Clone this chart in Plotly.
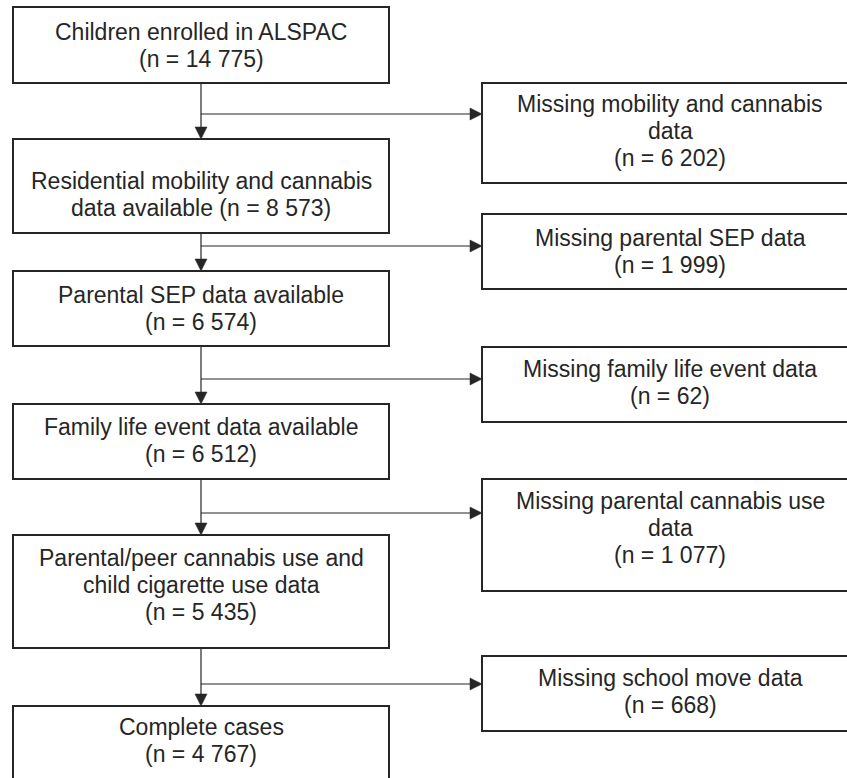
import plotly.graph_objects as go

# ---- data ----
stage_labels = [
    "Children enrolled in ALSPAC",
    "Residential mobility and cannabis|data available",
    "Parental SEP data available",
    "Family life event data available",
    "Parental/peer cannabis use and|child cigarette use data",
    "Complete cases",
]
stage_n = [14775, 8573, 6574, 6512, 5435, 4767]
stage_n_same_line = [False, True, False, False, False, False]

excluded_labels = [
    "Missing mobility and cannabis|data",
    "Missing parental SEP data",
    "Missing family life event data",
    "Missing parental cannabis use|data",
    "Missing school move data",
]
excluded_n = [6202, 1999, 62, 1077, 668]

# ---- layout (positions in pixel-like axis units) ----
W, H = 847, 778
left_x = (13, 389)
left_boxes = [(7, 83), (139, 233), (271, 346), (404, 479), (535, 648), (706, 820)]
left_first_baseline = [40, 189, 303, 435, 566, 735]
right_x0 = 482
right_text_x = 670
right_boxes = [(83, 183), (214, 289), (347, 422), (479, 591), (656, 731)]
right_first_baseline = [112, 246, 377, 509, 686]
branch_y = [114, 246, 379, 513, 684]
trunk_x = 201
line_gap = 27.2
font_size = 23
col = "#262626"


def fmt(n):
    return "(n = " + f"{n:,}".replace(",", " ") + ")"


def lines_for(label, n, same_line=False):
    parts = label.split("|")
    if same_line:
        parts[-1] = parts[-1] + " " + fmt(n)
    else:
        parts.append(fmt(n))
    return parts


fig = go.Figure()
shapes = []
annotations = []


def add_box(x0, x1, y0, y1):
    shapes.append(dict(type="rect", xref="x", yref="y", x0=x0, x1=x1, y0=y0, y1=y1,
                       line=dict(color=col, width=2), fillcolor="white", layer="above"))


def add_open_box(x0, y0, y1):
    # box running off the right edge of the page: top, left and bottom sides only
    shapes.append(dict(type="path", xref="x", yref="y",
                       path=f"M {W},{y0} L {x0},{y0} L {x0},{y1} L {W},{y1}",
                       line=dict(color=col, width=2), layer="above"))


def add_text(xc, first_baseline, lines):
    for k, t in enumerate(lines):
        annotations.append(dict(x=xc, y=first_baseline + k * line_gap - 8.0, xref="x", yref="y",
                                text=t, showarrow=False, xanchor="center", yanchor="middle",
                                font=dict(family="Liberation Sans, Arial", size=font_size, color=col)))


# trunk lines and down arrows
for i in range(len(left_boxes) - 1):
    top = left_boxes[i][1]
    nxt = left_boxes[i + 1][0]
    shapes.append(dict(type="line", xref="x", yref="y", x0=trunk_x, x1=trunk_x, y0=top, y1=nxt - 11,
                       line=dict(color=col, width=1.2)))
    shapes.append(dict(type="path", xref="x", yref="y",
                       path=f"M {trunk_x-6},{nxt-12} L {trunk_x+6},{nxt-12} L {trunk_x},{nxt} Z",
                       fillcolor=col, line=dict(color=col, width=0.5)))

# branch lines and right arrows
for j, y in enumerate(branch_y):
    shapes.append(dict(type="line", xref="x", yref="y", x0=trunk_x, x1=right_x0 - 11, y0=y, y1=y,
                       line=dict(color=col, width=1.2)))
    shapes.append(dict(type="path", xref="x", yref="y",
                       path=f"M {right_x0-12},{y-6} L {right_x0-12},{y+6} L {right_x0},{y} Z",
                       fillcolor=col, line=dict(color=col, width=0.5)))

for i, (y0, y1) in enumerate(left_boxes):
    add_box(left_x[0], left_x[1], y0, y1)
    add_text((left_x[0] + left_x[1]) / 2, left_first_baseline[i],
             lines_for(stage_labels[i], stage_n[i], stage_n_same_line[i]))

for j, (y0, y1) in enumerate(right_boxes):
    add_open_box(right_x0, y0, y1)
    add_text(right_text_x, right_first_baseline[j],
             lines_for(excluded_labels[j], excluded_n[j]))

fig.update_layout(
    width=W, height=H,
    margin=dict(l=0, r=0, t=0, b=0),
    paper_bgcolor="white", plot_bgcolor="white",
    xaxis=dict(range=[0, W], visible=False, fixedrange=True),
    yaxis=dict(range=[H, 0], visible=False, fixedrange=True),
    shapes=shapes, annotations=annotations, showlegend=False,
)

fig.write_html(
    "out.html",
    config={"displayModeBar": False},
    post_script="document.body.style.margin='0';document.body.style.overflow='hidden';",
)
